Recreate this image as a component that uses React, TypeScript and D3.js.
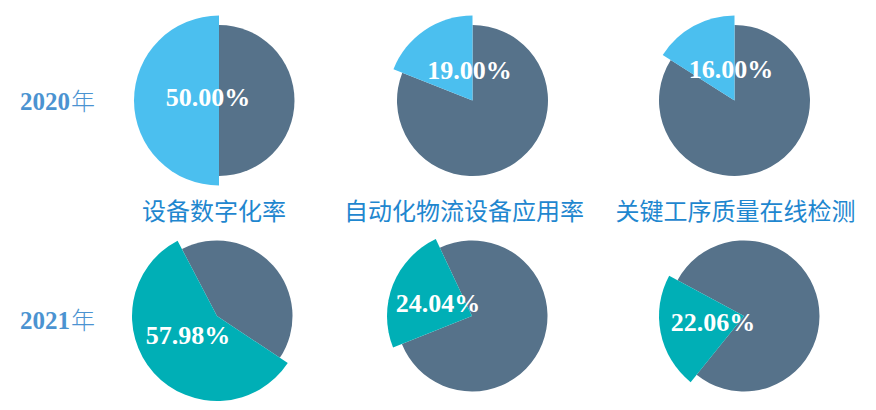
import React from "react";
import * as d3 from "d3";

// Indicator names (shared by both years)
const categories = ["设备数字化率", "自动化物流设备应用率", "关键工序质量在线检测"];
const years = ["2020", "2021"];
const yearSuffix = "年";
// Share of each indicator, in percent
const values2020 = [50.0, 19.0, 16.0];
const values2021 = [57.98, 24.04, 22.06];

const W = 876;
const H = 410;

// Layout of the pie grid
const rowY = [100.5, 316];
const colX = [
  [219, 472.5, 734.5],
  [217, 472, 744],
];
// Angle (degrees, clockwise from 12 o'clock) around which the highlighted slice is placed
const midAngle2021 = [228, 291.5, 258.6];
// Offset of the percentage label from the pie centre
const labelOffset = [
  [[-11, 5.5], [-3, -22], [-3.5, -22.5]],
  [[-29, 27.5], [-34, -4], [-31, 15]],
];

const R_BASE = 75.5;
const R_HIGHLIGHT = 85;
const COLOR_BASE = "#56728a";
const COLOR_2020 = "#4bbfef";
const COLOR_2021 = "#00afb6";

const deg = Math.PI / 180;

function Pie({ cx, cy, value, start, color, lx, ly }) {
  const span = (value / 100) * 2 * Math.PI;
  const arcBase = d3.arc().innerRadius(0).outerRadius(R_BASE);
  const arcHi = d3.arc().innerRadius(0).outerRadius(R_HIGHLIGHT);
  const restPath = arcBase({ startAngle: start + span, endAngle: start + 2 * Math.PI });
  const hiPath = arcHi({ startAngle: start, endAngle: start + span });
  return (
    <g transform={`translate(${cx},${cy})`}>
      <path d={restPath} fill={COLOR_BASE} />
      <path d={hiPath} fill={color} />
      <text
        x={lx}
        y={ly}
        textAnchor="middle"
        fill="#ffffff"
        fontFamily="'Liberation Serif', 'Times New Roman', serif"
        fontWeight="bold"
        fontSize={26}
      >
        {d3.format(".2f")(value)}%
      </text>
    </g>
  );
}

export default function App() {
  const rows = [values2020, values2021];
  return (
    <svg
      width={W}
      height={H}
      viewBox={`0 0 ${W} ${H}`}
      style={{ position: "absolute", left: 0, top: 0, background: "#ffffff" }}
    >
      {rows.map((vals, r) =>
        vals.map((v, c) => {
          const span = (v / 100) * 360;
          // 2020: slice ends at 12 o'clock and grows counter-clockwise
          const startDeg = r === 0 ? 360 - span : midAngle2021[c] - span / 2;
          return (
            <Pie
              key={`${r}-${c}`}
              cx={colX[r][c]}
              cy={rowY[r]}
              value={v}
              start={startDeg * deg}
              color={r === 0 ? COLOR_2020 : COLOR_2021}
              lx={labelOffset[r][c][0]}
              ly={labelOffset[r][c][1]}
            />
          );
        })
      )}
      {years.map((y, i) => (
        <text
          key={y}
          x={20}
          y={i === 0 ? 109.5 : 329}
          fill="#4b93d1"
          fontSize={25}
        >
          <tspan fontFamily="'Liberation Serif', serif" fontWeight="bold">
            {y}
          </tspan>
          <tspan fontFamily="'Noto Sans CJK SC', sans-serif" fontWeight={300} fontSize={24} dx={1}>
            {yearSuffix}
          </tspan>
        </text>
      ))}
      {categories.map((name, i) => (
        <text
          key={name}
          x={[214, 464, 735.5][i]}
          y={220}
          textAnchor="middle"
          fill="#1f87cf"
          fontFamily="'Noto Sans CJK SC', sans-serif"
          fontSize={24}
        >
          {name}
        </text>
      ))}
    </svg>
  );
}
